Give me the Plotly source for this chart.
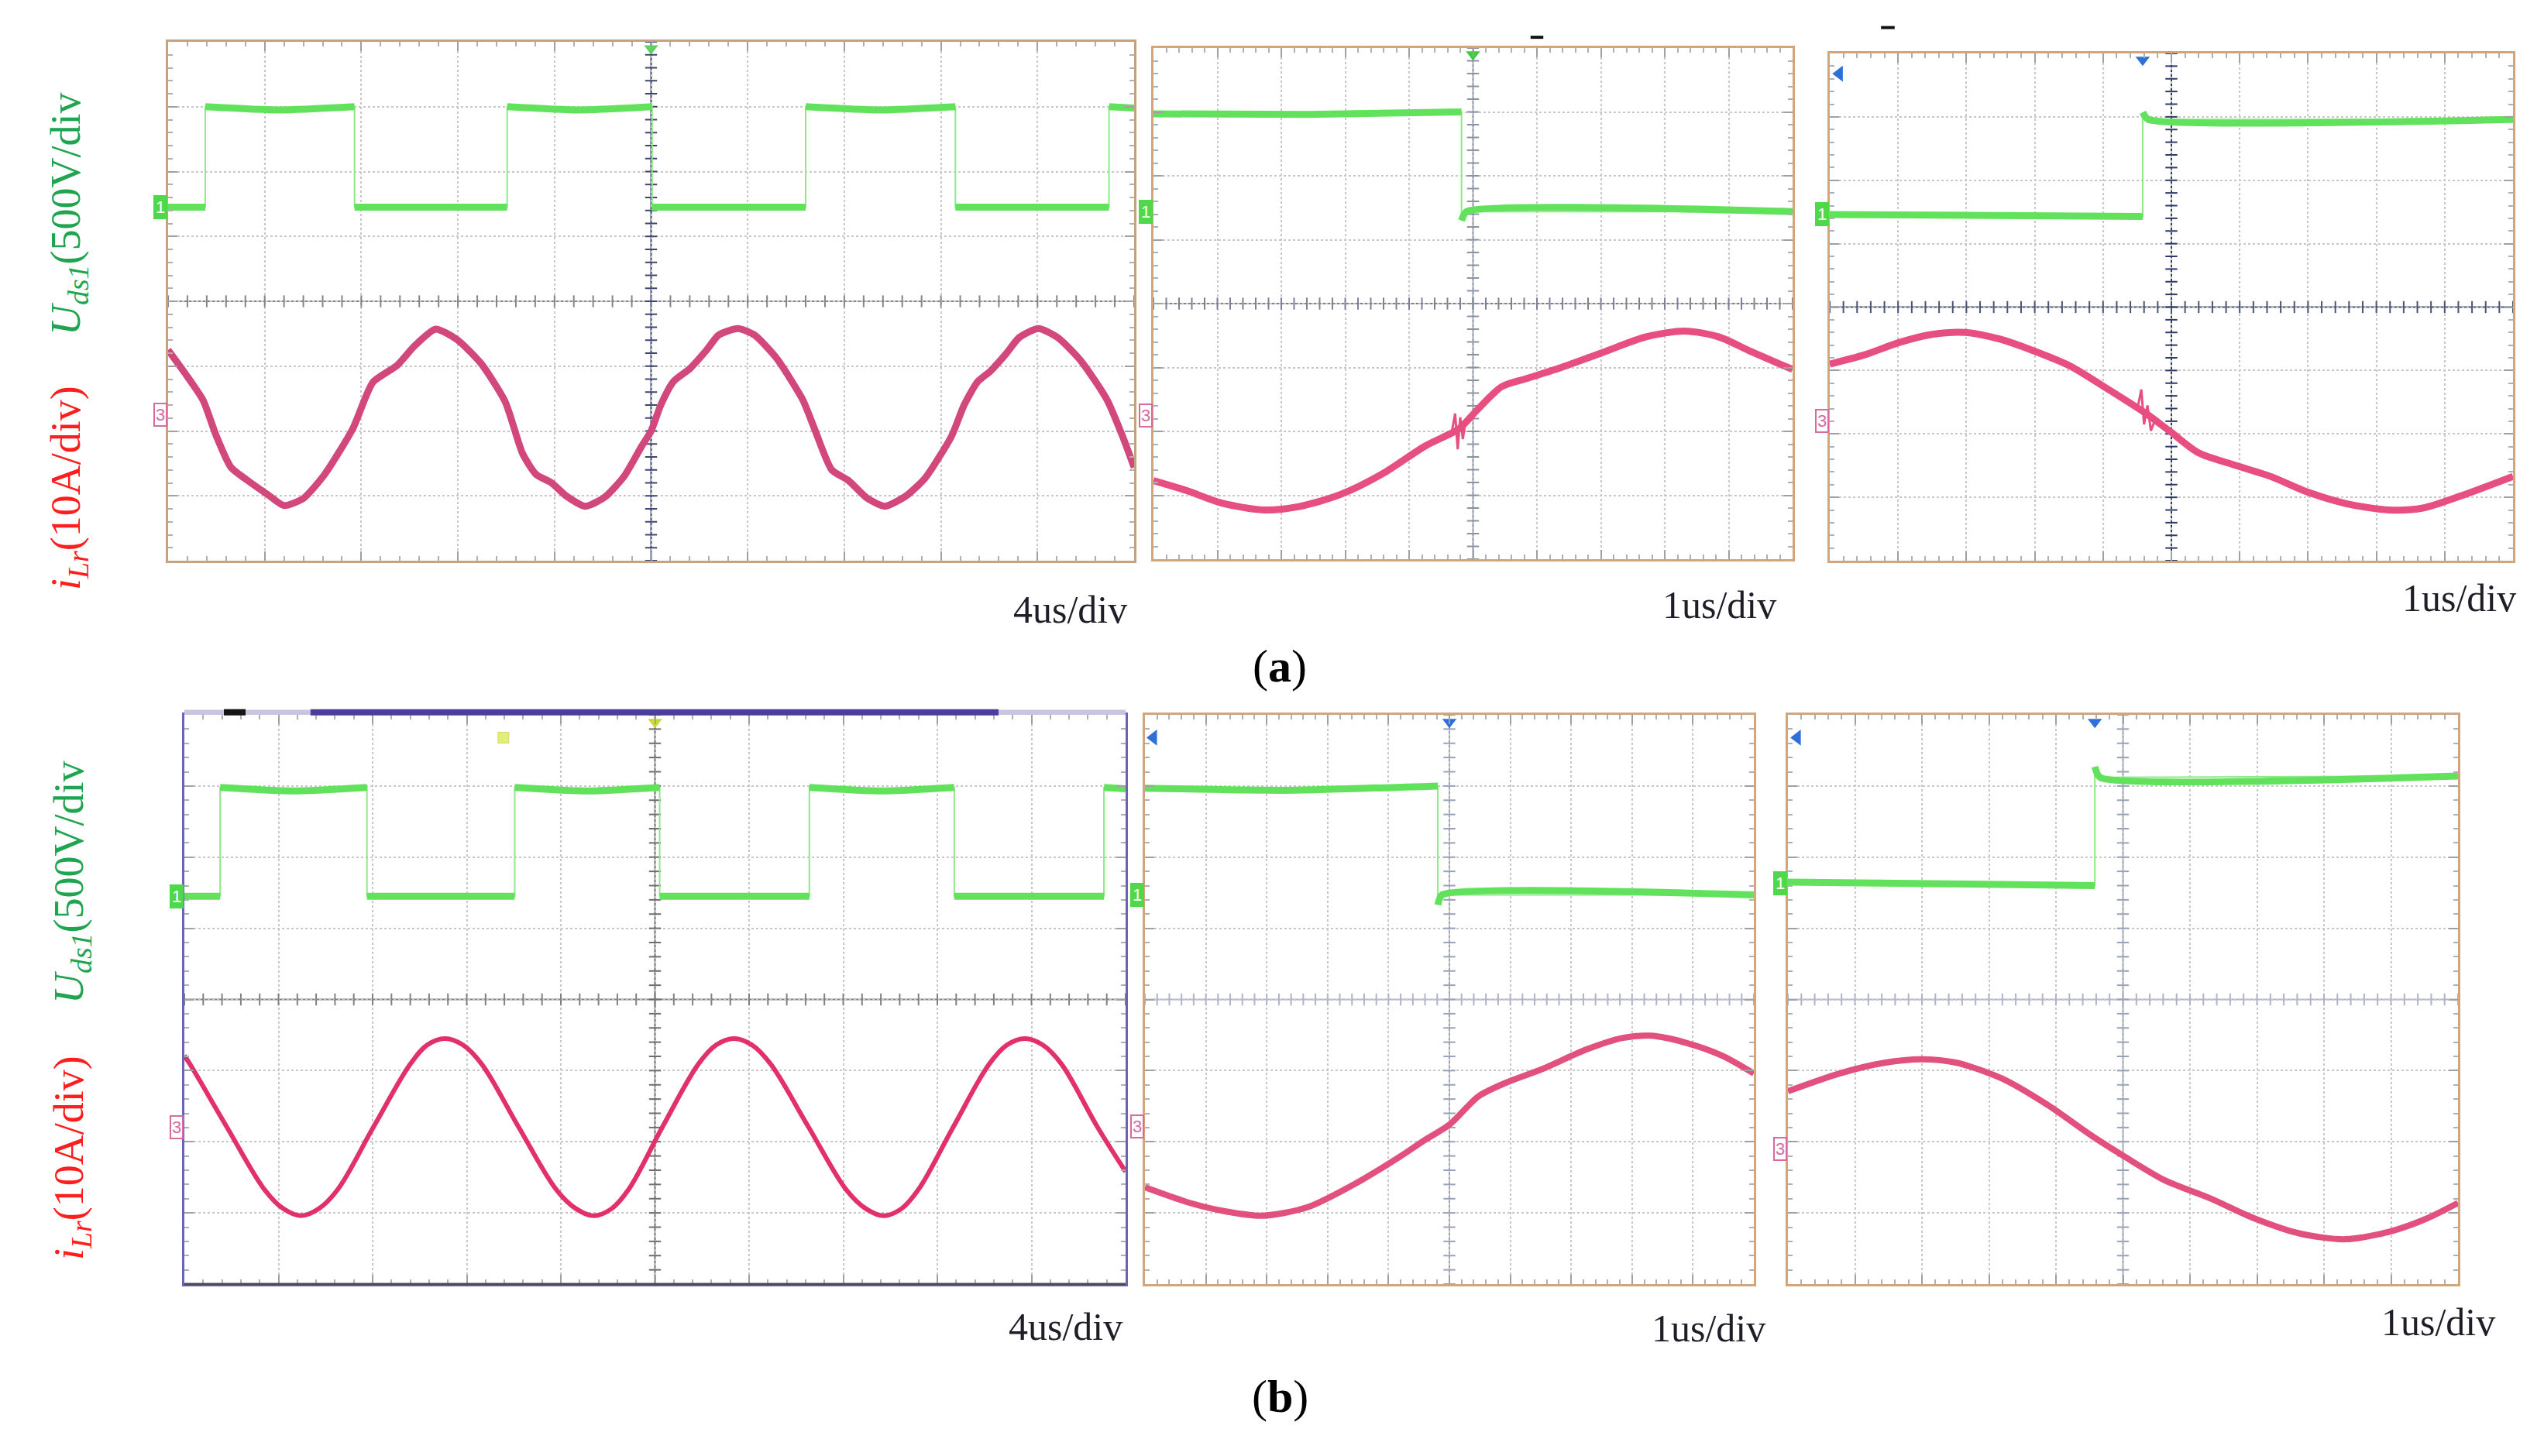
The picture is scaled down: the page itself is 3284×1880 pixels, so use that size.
import plotly.graph_objects as go

W, H = 3284, 1880

# ---- waveforms, in scope divisions: x 0..10, y -4..4 (centre line = 0) ----
# (a) 4us/div
p1_green_x = [0, 0.385, 0.385, 1.15, 1.93, 1.93, 3.51, 3.51, 4.26, 5.01, 5.01, 6.6, 6.6, 7.37, 8.15, 8.15, 9.74, 9.74, 10]
p1_green_y = [1.45, 1.45, 3.0, 2.95, 3.0, 1.45, 1.45, 3.0, 2.95, 3.0, 1.45, 1.45, 3.0, 2.95, 3.0, 1.45, 1.45, 3.0, 2.98]
p1_pink_x = [0.0, 0.18, 0.36, 0.5, 0.65, 0.83, 1.04, 1.2, 1.4, 1.62, 1.91, 2.12, 2.37, 2.55, 2.77, 2.99,
             3.24, 3.49, 3.67, 3.81, 3.97, 4.12, 4.32, 4.52, 4.72, 4.9, 5.0, 5.1, 5.23, 5.4, 5.57, 5.7,
             5.9, 6.07, 6.3, 6.57, 6.7, 6.87, 7.04, 7.24, 7.42, 7.64, 7.84, 8.11, 8.24, 8.38, 8.51,
             8.68, 8.81, 9.01, 9.21, 9.45, 9.72, 9.88, 10.0]
p1_pink_y = [-0.75, -1.12, -1.52, -2.08, -2.56, -2.77, -2.99, -3.15, -3.04, -2.67, -1.97, -1.25, -0.99, -0.69, -0.43, -0.59,
             -0.96, -1.55, -2.35, -2.67, -2.8, -3.0, -3.16, -3.02, -2.7, -2.24, -2.0, -1.6, -1.24, -1.04, -0.76, -0.52,
             -0.42, -0.52, -0.88, -1.52, -2.0, -2.6, -2.76, -3.04, -3.16, -3.0, -2.72, -2.08, -1.6, -1.24, -1.08,
             -0.8, -0.56, -0.42, -0.56, -0.92, -1.52, -2.08, -2.56]

# (a) 1us/div, turn-off
p2_green_x = [0, 2.4, 4.82, 4.82, 4.9, 10]
p2_green_y = [2.97, 2.96, 3.0, 1.3, 1.44, 1.44]
p2_pink_x = [0, 0.53, 1.06, 1.73, 2.26, 2.92, 3.59, 4.25, 4.78, 5.05, 5.45, 5.85, 6.38, 7.04, 7.71, 8.31, 8.84, 9.37, 10]
p2_pink_y = [-2.77, -2.93, -3.12, -3.23, -3.18, -2.99, -2.66, -2.23, -1.96, -1.68, -1.3, -1.17, -1.0, -0.76, -0.52, -0.43, -0.52, -0.76, -1.03]
p2_glitch_x = [4.66, 4.72, 4.76, 4.8, 4.84, 4.88]
p2_glitch_y = [-2.05, -1.72, -2.28, -1.78, -2.12, -1.86]

# (a) 1us/div, turn-on
p3_green_x = [0, 4.58, 4.58, 4.66, 10]
p3_green_y = [1.46, 1.43, 3.07, 2.96, 2.96]
p3_pink_x = [0, 0.52, 1.01, 1.5, 1.99, 2.47, 2.96, 3.52, 4.08, 4.63, 4.98, 5.4, 5.89, 6.45, 7.0, 7.56, 8.19, 8.68, 9.23, 10]
p3_pink_y = [-0.9, -0.75, -0.56, -0.43, -0.4, -0.5, -0.68, -0.93, -1.3, -1.68, -1.96, -2.3, -2.48, -2.67, -2.92, -3.1, -3.2, -3.17, -2.98, -2.67]
p3_glitch_x = [4.5, 4.56, 4.6, 4.65, 4.7, 4.76]
p3_glitch_y = [-1.62, -1.3, -1.85, -1.55, -1.95, -1.78]

# (b) 4us/div
p4_green_x = [0, 0.38, 0.38, 1.16, 1.94, 1.94, 3.51, 3.51, 4.28, 5.05, 5.05, 6.64, 6.64, 7.41, 8.18, 8.18, 9.77, 9.77, 10]
p4_green_y = [1.45, 1.45, 2.98, 2.93, 2.98, 1.45, 1.45, 2.98, 2.93, 2.98, 1.45, 1.45, 2.98, 2.93, 2.98, 1.45, 1.45, 2.98, 2.96]
p4_pink_x = [0, 0.06, 0.45, 0.85, 1.05, 1.24, 1.43, 1.63, 2.01, 2.40, 2.58, 2.77, 2.96, 3.16, 3.55, 3.95, 4.16,
             4.35, 4.54, 4.72, 5.08, 5.46, 5.65, 5.84, 6.03, 6.23, 6.63, 7.03, 7.24, 7.43, 7.62, 7.80, 8.17,
             8.55, 8.74, 8.93, 9.12, 9.32, 9.70, 10.0]
p4_pink_y = [-0.79, -0.91, -1.79, -2.67, -2.94, -3.04, -2.94, -2.67, -1.79, -0.91, -0.64, -0.55, -0.64, -0.91, -1.79, -2.67, -2.94,
             -3.04, -2.94, -2.67, -1.79, -0.91, -0.64, -0.55, -0.64, -0.91, -1.79, -2.67, -2.94, -3.04, -2.94, -2.67, -1.79,
             -0.91, -0.64, -0.55, -0.64, -0.91, -1.79, -2.42]

# (b) 1us/div, turn-off
p5_green_x = [0, 2.3, 4.81, 4.81, 4.88, 10]
p5_green_y = [2.97, 2.94, 3.0, 1.33, 1.47, 1.47]
p5_pink_x = [0, 0.74, 1.33, 1.93, 2.67, 3.41, 4.15, 4.59, 5.0, 5.48, 5.93, 6.52, 7.26, 7.85, 8.3, 8.89, 9.48, 10]
p5_pink_y = [-2.64, -2.86, -2.98, -3.04, -2.92, -2.61, -2.23, -1.98, -1.76, -1.36, -1.17, -0.98, -0.7, -0.54, -0.51, -0.61, -0.79, -1.04]

# (b) 1us/div, turn-on
p6_green_x = [0, 4.58, 4.58, 4.66, 10]
p6_green_y = [1.65, 1.6, 3.27, 3.12, 3.14]
p6_pink_x = [0, 0.77, 1.44, 1.98, 2.52, 3.19, 3.87, 4.54, 5.01, 5.62, 6.29, 6.97, 7.64, 8.32, 8.99, 9.53, 10]
p6_pink_y = [-1.29, -1.04, -0.89, -0.84, -0.89, -1.11, -1.48, -1.92, -2.2, -2.54, -2.79, -3.08, -3.29, -3.37, -3.26, -3.08, -2.86]

# channel ground markers (left edge) and time bases
ch1_level = [1.45, 1.44, 1.46, 1.45, 1.47, 1.63]
ch3_level = [-1.75, -1.75, -1.8, -1.8, -1.78, -2.1]
time_base = ['4us/div', '1us/div', '1us/div', '4us/div', '1us/div', '1us/div']

GREEN = '#62e25c'
panels = [
    dict(box=(209, 46, 1456, 716), frame='#c6a27e', cv='#3c4670', ch='#85858d', pink='#d2487c', pw=9, sm=0.6,
         g=(p1_green_x, p1_green_y), p=(p1_pink_x, p1_pink_y), gl=None, tb=(1449, 779)),
    dict(box=(1481, 54, 2306, 714), frame='#d2a57c', cv='#8a92a6', ch='#7c8294', pink='#e64f80', pw=9, sm=0.8,
         g=(p2_green_x, p2_green_y), p=(p2_pink_x, p2_pink_y), gl=(p2_glitch_x, p2_glitch_y), tb=(2287, 773)),
    dict(box=(2354, 61, 3236, 716), frame='#d2a57c', cv='#2f3a66', ch='#4c5474', pink='#e64f80', pw=9, sm=0.8,
         g=(p3_green_x, p3_green_y), p=(p3_pink_x, p3_pink_y), gl=(p3_glitch_x, p3_glitch_y), tb=(3242, 764)),
    dict(box=(230, 915, 1445, 1650), frame='#6b63b5', cv='#6e6e6e', ch='#808080', pink='#e2306c', pw=6, sm=1.0,
         g=(p4_green_x, p4_green_y), p=(p4_pink_x, p4_pink_y), gl=None, tb=(1443, 1705)),
    dict(box=(1470, 915, 2256, 1650), frame='#d2a57c', cv='#9aa2ba', ch='#b0b4c8', pink='#e2507e', pw=8, sm=0.8,
         g=(p5_green_x, p5_green_y), p=(p5_pink_x, p5_pink_y), gl=None, tb=(2273, 1707)),
    dict(box=(2300, 915, 3165, 1650), frame='#d2a57c', cv='#9aa2ba', ch='#b0b4c8', pink='#e2507e', pw=8, sm=0.8,
         g=(p6_green_x, p6_green_y), p=(p6_pink_x, p6_pink_y), gl=None, tb=(3215, 1699)),
]

fig = go.Figure()
layout = {}
shapes = []
annotations = []

tick_x = [k * 0.2 for k in range(51)]
tick_y = [-4 + k * 0.2 for k in range(41)]

for i, pn in enumerate(panels, start=1):
    x0, y0, x1, y1 = pn['box']
    xa, ya = f'x{i}', f'y{i}'
    sfx = '' if i == 1 else str(i)
    common = dict(showgrid=True, gridcolor='#c8c8c8', griddash='dot', gridwidth=2,
                  tick0=0, dtick=1, showticklabels=False, ticks='inside', ticklen=12, tickwidth=2,
                  tickcolor='#a0a0a0', minor=dict(ticks='inside', dtick=0.2, ticklen=6, tickwidth=2,
                                                   tickcolor='#b0b0b0', showgrid=False),
                  showline=True, linecolor=pn['frame'], linewidth=3, mirror='ticks',
                  zeroline=False, fixedrange=True)
    layout['xaxis' + sfx] = dict(domain=[x0 / W, x1 / W], range=[0, 10], anchor=ya, **common)
    layout['yaxis' + sfx] = dict(domain=[1 - y1 / H, 1 - y0 / H], range=[-4, 4], anchor=xa, **common)

    # centre cross-hair with 0.2-div ticks
    shapes.append(dict(type='line', xref=xa, yref=ya, x0=0, x1=10, y0=0, y1=0,
                       line=dict(color=pn['ch'], width=2), layer='below'))
    shapes.append(dict(type='line', xref=xa, yref=ya, x0=5, x1=5, y0=-4, y1=4,
                       line=dict(color=pn['cv'], width=2), layer='below'))
    fig.add_trace(go.Scatter(x=tick_x, y=[0] * len(tick_x), xaxis=xa, yaxis=ya, mode='markers',
                             marker=dict(symbol='line-ns', size=11, line=dict(color=pn['ch'], width=2)),
                             hoverinfo='skip'))
    fig.add_trace(go.Scatter(x=[5] * len(tick_y), y=tick_y, xaxis=xa, yaxis=ya, mode='markers',
                             marker=dict(symbol='line-ew', size=11, line=dict(color=pn['cv'], width=2)),
                             hoverinfo='skip'))

    # Uds1 trace: thin edges + thick levels
    gx, gy = pn['g']
    fig.add_trace(go.Scatter(x=gx, y=gy, xaxis=xa, yaxis=ya, mode='lines',
                             line=dict(color='#8fe88a', width=2), hoverinfo='skip'))
    tx, ty = [], []
    for k in range(len(gx) - 1):
        if gx[k + 1] == gx[k]:
            tx.append(None)
            ty.append(None)
        else:
            if not tx or tx[-1] is None:
                tx.append(gx[k])
                ty.append(gy[k])
            tx.append(gx[k + 1])
            ty.append(gy[k + 1])
    fig.add_trace(go.Scatter(x=tx, y=ty, xaxis=xa, yaxis=ya, mode='lines',
                             line=dict(color=GREEN, width=9, shape='spline', smoothing=0.6),
                             connectgaps=False, hoverinfo='skip'))

    # iLr trace
    px_, py_ = pn['p']
    fig.add_trace(go.Scatter(x=px_, y=py_, xaxis=xa, yaxis=ya, mode='lines',
                             line=dict(color=pn['pink'], width=pn['pw'], shape='spline', smoothing=pn['sm']),
                             hoverinfo='skip'))
    if pn['gl'] is not None:
        fig.add_trace(go.Scatter(x=pn['gl'][0], y=pn['gl'][1], xaxis=xa, yaxis=ya, mode='lines',
                                 line=dict(color=pn['pink'], width=3), hoverinfo='skip'))

    # channel markers
    annotations.append(dict(xref=xa, yref=ya, x=0, y=ch1_level[i - 1], text='1', showarrow=False,
                            xanchor='right', yanchor='middle', xshift=-1,
                            font=dict(family='Liberation Sans', size=22, color='white'),
                            bgcolor='#4ed84a', bordercolor='#4ed84a', borderwidth=1, borderpad=2))
    annotations.append(dict(xref=xa, yref=ya, x=0, y=ch3_level[i - 1], text='3', showarrow=False,
                            xanchor='right', yanchor='middle', xshift=-1,
                            font=dict(family='Liberation Sans', size=22, color='#d86aa0'),
                            bgcolor='white', bordercolor='#d86aa0', borderwidth=2, borderpad=1))

    # time base label
    annotations.append(dict(xref='paper', yref='paper', x=pn['tb'][0] / W, y=1 - pn['tb'][1] / H,
                            text=time_base[i - 1], showarrow=False, xanchor='right', yanchor='middle',
                            font=dict(family='Liberation Serif', size=50, color='#1e1e28')))

# trigger / position markers
for xa, ya, xpos, col in [('x1', 'y1', 5.0, '#58d858'), ('x2', 'y2', 5.0, '#3ccc3c'),
                          ('x3', 'y3', 4.58, '#2f6fd8'), ('x4', 'y4', 5.0, '#c8d838'),
                          ('x5', 'y5', 5.0, '#2f6fd8'), ('x6', 'y6', 4.58, '#2f6fd8')]:
    fig.add_trace(go.Scatter(x=[xpos], y=[3.9], xaxis=xa, yaxis=ya, mode='markers',
                             marker=dict(symbol='triangle-down', size=16, color=col), hoverinfo='skip'))
for xa, ya in [('x3', 'y3'), ('x5', 'y5'), ('x6', 'y6')]:
    fig.add_trace(go.Scatter(x=[0.14], y=[3.68], xaxis=xa, yaxis=ya, mode='markers',
                             marker=dict(symbol='triangle-left', size=18, color='#2f6fd8'), hoverinfo='skip'))
fig.add_trace(go.Scatter(x=[3.39], y=[3.68], xaxis='x4', yaxis='y4', mode='markers',
                         marker=dict(symbol='square', size=[14], color='#d8e840',
                                     line=dict(color='#b8c830', width=1)), hoverinfo='skip'))

# (b) 4us/div record bar along the top edge
shapes += [
    dict(type='rect', xref='x4', yref='y4 domain', x0=0, x1=10, y0=1.0, y1=1.009,
         fillcolor='#c8c4e2', line=dict(width=0)),
    dict(type='rect', xref='x4', yref='y4 domain', x0=1.34, x1=8.65, y0=0.999, y1=1.01,
         fillcolor='#4a3f98', line=dict(width=0)),
    dict(type='rect', xref='x4', yref='y4 domain', x0=0.42, x1=0.65, y0=0.999, y1=1.01,
         fillcolor='#151515', line=dict(width=0)),
    dict(type='line', xref='x4', yref='y4 domain', x0=0, x1=10, y0=0, y1=0,
         line=dict(color='#4a4a58', width=3)),
    dict(type='rect', xref='x2', yref='y2 domain', x0=5.9, x1=6.1, y0=1.018, y1=1.024,
         fillcolor='#111111', line=dict(width=0)),
    dict(type='rect', xref='x3', yref='y3 domain', x0=0.75, x1=0.95, y0=1.048, y1=1.054,
         fillcolor='#111111', line=dict(width=0)),
]

# side labels and sub-figure captions
for yc_g, yc_r, xc in [(268, 622, 80), (1131, 1487, 84)]:
    annotations.append(dict(xref='paper', yref='paper', x=xc / W, y=1 - yc_g / H, textangle=-90,
                            xanchor='center', yanchor='middle',
                            text='<i>U<sub>ds1</sub></i>(500V/div', showarrow=False,
                            font=dict(family='Liberation Serif', size=54, color='#20a450')))
    annotations.append(dict(xref='paper', yref='paper', x=xc / W, y=1 - yc_r / H, textangle=-90,
                            xanchor='center', yanchor='middle',
                            text='<i>i<sub>Lr</sub></i>(10A/div)', showarrow=False,
                            font=dict(family='Liberation Serif', size=54, color='#ff1e1e')))
for txt, yc in [('(<b>a</b>)', 852), ('(<b>b</b>)', 1795)]:
    annotations.append(dict(xref='paper', yref='paper', x=1644 / W, y=1 - yc / H, text=txt,
                            xanchor='center', yanchor='middle',
                            showarrow=False, font=dict(family='Liberation Serif', size=60, color='black')))

fig.update_layout(width=W, height=H, margin=dict(l=0, r=0, t=0, b=0),
                  paper_bgcolor='white', plot_bgcolor='white', showlegend=False,
                  shapes=shapes, annotations=annotations, **layout)

fig.write_html("out.html")
